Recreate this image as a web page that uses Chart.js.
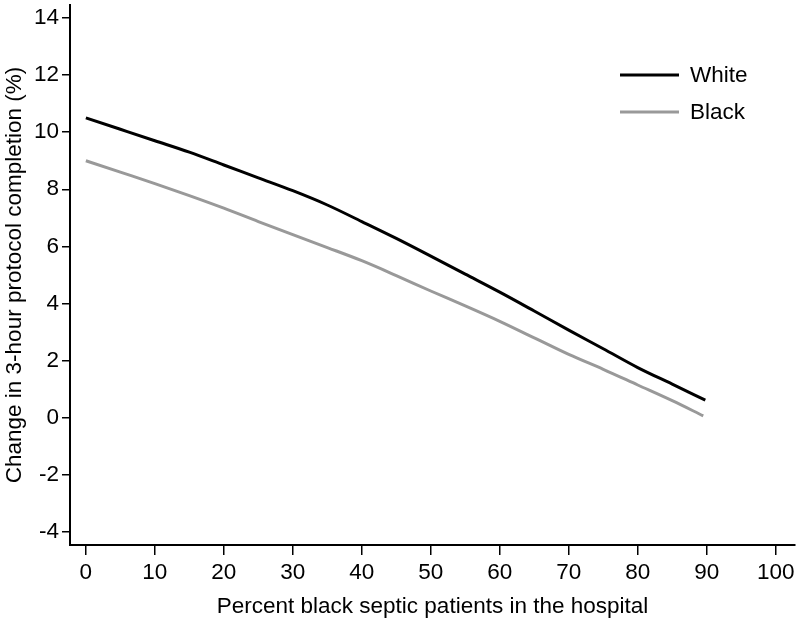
<!DOCTYPE html>
<html>
<head>
<meta charset="utf-8">
<script src="https://cdn.jsdelivr.net/npm/chart.js@4.4.1/dist/chart.umd.min.js"></script>
<style>
html,body{margin:0;padding:0;background:#fff;}
#wrap{width:800px;height:620px;position:relative;}
</style>
</head>
<body>
<div id="wrap"><canvas id="c" width="800" height="620"></canvas></div>
<script>
const xValues = [0, 5, 10, 15, 20, 25, 30, 35, 40, 45, 50, 55, 60, 65, 70, 75, 80, 85, 89.8];
const whiteValues = [10.5, 10.1, 9.7, 9.3, 8.85, 8.4, 7.95, 7.45, 6.87, 6.28, 5.66, 5.03, 4.4, 3.74, 3.07, 2.42, 1.76, 1.18, 0.62];
const xValuesBlack = [0, 5, 10, 15, 20, 25, 30, 35, 40, 45, 50, 55, 60, 65, 70, 75, 80, 85, 89.5];
const blackValues = [9.0, 8.6, 8.2, 7.78, 7.34, 6.87, 6.41, 5.96, 5.5, 4.98, 4.44, 3.92, 3.38, 2.8, 2.22, 1.7, 1.15, 0.6, 0.07];
const yTicks = [-4, -2, 0, 2, 4, 6, 8, 10, 12, 14];
const xTicks = [0, 10, 20, 30, 40, 50, 60, 70, 80, 90, 100];
const seriesNames = ['White', 'Black'];
const seriesColors = ['#000000', '#999999'];

const FONT = "'Liberation Sans', Arial, Helvetica, sans-serif";
const FS = 22.5;

const legendPlugin = {
  id: 'insideLegend',
  afterDraw(chart) {
    const ctx = chart.ctx;
    ctx.save();
    chart.data.datasets.forEach((ds, i) => {
      const y = 75 + i * 37;
      ctx.strokeStyle = ds.borderColor;
      ctx.lineWidth = 3;
      ctx.beginPath();
      ctx.moveTo(620, y);
      ctx.lineTo(679, y);
      ctx.stroke();
      ctx.fillStyle = '#000';
      ctx.font = FS + 'px ' + FONT;
      ctx.textBaseline = 'middle';
      ctx.textAlign = 'left';
      ctx.fillText(ds.label, 690, y + 1);
    });
    ctx.restore();
  }
};

new Chart(document.getElementById('c'), {
  type: 'scatter',
  data: {
    datasets: [
      {
        label: seriesNames[0],
        data: xValues.map((x, i) => ({x: x, y: whiteValues[i]})),
        showLine: true,
        borderColor: seriesColors[0],
        borderWidth: 3,
        pointRadius: 0,
        cubicInterpolationMode: 'monotone'
      },
      {
        label: seriesNames[1],
        data: xValuesBlack.map((x, i) => ({x: x, y: blackValues[i]})),
        showLine: true,
        borderColor: seriesColors[1],
        borderWidth: 3,
        pointRadius: 0,
        cubicInterpolationMode: 'monotone'
      }
    ]
  },
  options: {
    responsive: false,
    animation: false,
    devicePixelRatio: 1,
    layout: {padding: {top: 5, right: 5, left: 0, bottom: 0}},
    plugins: {legend: {display: false}, tooltip: {enabled: false}},
    scales: {
      x: {
        type: 'linear',
        min: -2.3,
        max: 102.8,
        afterBuildTicks(scale) { scale.ticks = xTicks.map(v => ({value: v})); },
        afterFit(scale) { scale.height = 75; scale.paddingLeft = 0; scale.paddingRight = 0; },
        border: {display: true, color: '#000', width: 2},
        grid: {display: true, drawOnChartArea: false, drawTicks: true, tickLength: 10, color: '#000', lineWidth: 1.5},
        ticks: {color: '#000', font: {family: FONT, size: FS}, padding: 4, maxRotation: 0, autoSkip: false},
        title: {display: true, text: 'Percent black septic patients in the hospital', color: '#000', font: {family: FONT, size: FS}, padding: {top: 0, bottom: 0}}
      },
      y: {
        type: 'linear',
        min: -4.45,
        max: 14.45,
        afterBuildTicks(scale) { scale.ticks = yTicks.map(v => ({value: v})); },
        afterFit(scale) { scale.width = 70; scale.paddingTop = 0; scale.paddingBottom = 0; },
        border: {display: true, color: '#000', width: 2},
        grid: {display: true, drawOnChartArea: false, drawTicks: true, tickLength: 8, color: '#000', lineWidth: 1.5},
        ticks: {color: '#000', font: {family: FONT, size: FS}, padding: 3, autoSkip: false},
        title: {display: true, text: 'Change in 3-hour protocol completion (%)', color: '#000', font: {family: FONT, size: FS}, padding: {top: 1, bottom: 0}}
      }
    }
  },
  plugins: [legendPlugin]
});
</script>
</body>
</html>
